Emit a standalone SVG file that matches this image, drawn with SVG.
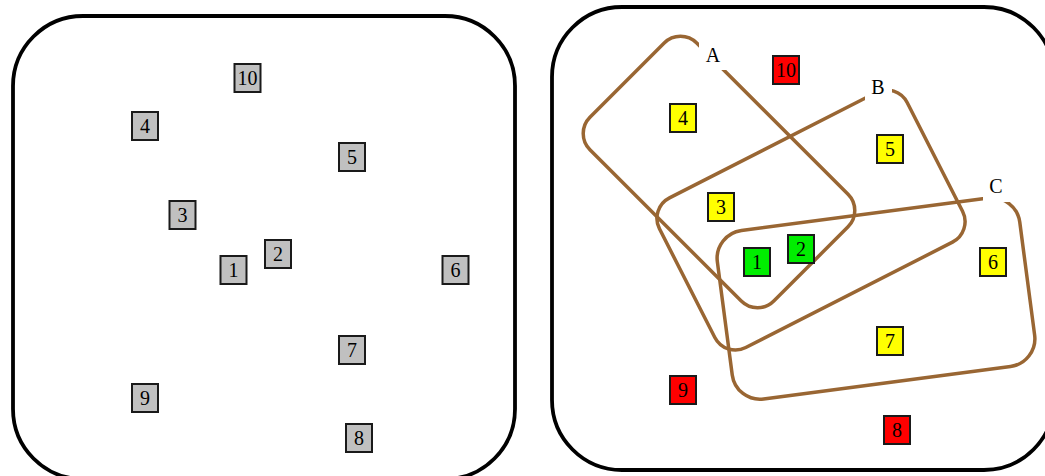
<svg xmlns="http://www.w3.org/2000/svg" width="1045" height="476" viewBox="0 0 1045 476">
<style>
.panel{fill:#fff;stroke:#000;stroke-width:3.8}
.set{fill:none;stroke:#996633;stroke-width:3.5}
.nd{stroke:#1a1a1a;stroke-width:2}
.g{fill:#c0c0c0}.y{fill:#ffff00}.gr{fill:#00ee00}.r{fill:#ff0000}
.t{font-family:"Liberation Serif","Times New Roman",serif;font-size:20px;fill:#000;text-anchor:middle}
.lb{fill:#fff;stroke:none}
</style>
<rect width="1045" height="476" fill="#fff"/>
<g id="panel-left"><rect class="panel" x="13" y="16" width="502" height="463" rx="70"/></g>
<g id="panel-right"><rect class="panel" x="552" y="7" width="502" height="463" rx="70"/></g>
<g id="connectors">
<rect id="set-A" class="set" x="-130" y="-75.5" width="260" height="151" rx="23" transform="translate(719,172) rotate(45)"/>
<rect id="set-B" class="set" x="-139" y="-84" width="278" height="168" rx="23" transform="translate(811,220) rotate(-27)"/>
<rect id="set-C" class="set" x="-152.5" y="-85" width="305" height="170" rx="28" transform="translate(876,298.5) rotate(-7.5)"/>
</g>
<g id="label-A"><rect class="lb" x="699" y="40" width="28" height="30"/><text class="t" x="713" y="62">A</text></g>
<g id="label-B"><rect class="lb" x="865" y="73" width="27" height="29"/><text class="t" x="878" y="94">B</text></g>
<g id="label-C"><rect class="lb" x="983" y="171" width="27" height="31"/><text class="t" x="996" y="193">C</text></g>
<g id="left-nodes">
<g id="L10"><rect class="nd g" x="234.5" y="64" width="26" height="28"/><text class="t" x="247.5" y="85">10</text></g>
<g id="L4"><rect class="nd g" x="132" y="112" width="26" height="28"/><text class="t" x="145" y="133">4</text></g>
<g id="L5"><rect class="nd g" x="339" y="143" width="26" height="28"/><text class="t" x="352" y="164">5</text></g>
<g id="L3"><rect class="nd g" x="169.5" y="201" width="26" height="28"/><text class="t" x="182.5" y="222">3</text></g>
<g id="L2"><rect class="nd g" x="265" y="240" width="26" height="28"/><text class="t" x="278" y="261">2</text></g>
<g id="L1"><rect class="nd g" x="220.5" y="256" width="26" height="28"/><text class="t" x="233.5" y="277">1</text></g>
<g id="L6"><rect class="nd g" x="442.5" y="256" width="26" height="28"/><text class="t" x="455.5" y="277">6</text></g>
<g id="L7"><rect class="nd g" x="339" y="336" width="26" height="28"/><text class="t" x="352" y="357">7</text></g>
<g id="L9"><rect class="nd g" x="132" y="384" width="26" height="28"/><text class="t" x="145" y="405">9</text></g>
<g id="L8"><rect class="nd g" x="346" y="424" width="26" height="28"/><text class="t" x="359" y="445">8</text></g>
</g>
<g id="right-nodes">
<g id="R10"><rect class="nd r" x="773" y="56" width="26" height="28"/><text class="t" x="786" y="77">10</text></g>
<g id="R4"><rect class="nd y" x="670" y="104" width="26" height="28"/><text class="t" x="683" y="125">4</text></g>
<g id="R5"><rect class="nd y" x="877" y="135" width="26" height="28"/><text class="t" x="890" y="156">5</text></g>
<g id="R3"><rect class="nd y" x="708" y="193" width="26" height="28"/><text class="t" x="721" y="214">3</text></g>
<g id="R2"><rect class="nd gr" x="788" y="235" width="26" height="28"/><text class="t" x="801" y="256">2</text></g>
<g id="R1"><rect class="nd gr" x="744" y="248" width="26" height="28"/><text class="t" x="757" y="269">1</text></g>
<g id="R6"><rect class="nd y" x="980" y="248" width="26" height="28"/><text class="t" x="993" y="269">6</text></g>
<g id="R7"><rect class="nd y" x="877" y="327" width="26" height="28"/><text class="t" x="890" y="348">7</text></g>
<g id="R9"><rect class="nd r" x="670" y="376" width="26" height="28"/><text class="t" x="683" y="397">9</text></g>
<g id="R8"><rect class="nd r" x="884" y="416" width="26" height="28"/><text class="t" x="897" y="437">8</text></g>
</g>
</svg>
